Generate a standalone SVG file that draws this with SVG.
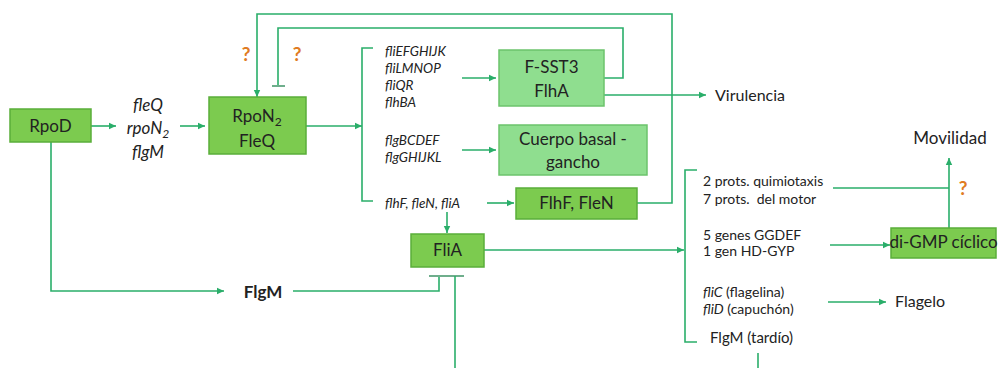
<svg xmlns="http://www.w3.org/2000/svg" width="1000" height="368" viewBox="0 0 1000 368">
<defs>
<marker id="ah" markerUnits="userSpaceOnUse" markerWidth="8" markerHeight="8" refX="7" refY="4" orient="auto">
<path d="M0,0.8 L7,4 L0,7.2 Z" fill="#2aae6a"/>
</marker>
<style>
.ln{fill:none;stroke:#2aae6a;stroke-width:1.6}
.tb{fill:none;stroke:#6fae8c;stroke-width:2}
.dk{fill:#7ccb4f;stroke:#5aae3a;stroke-width:1.5}
.lt{fill:#8fde8f;stroke:#6cc36c;stroke-width:1.5}
text{font-family:Lato,"Open Sans","Liberation Sans",sans-serif;fill:#222}
.bx{font-size:17px;text-anchor:middle}
.it{font-style:italic}
.g{font-size:13.5px;font-style:italic}
.r{font-size:14px}
.q{font-size:19px;font-weight:bold;fill:#e07b22;text-anchor:middle}
</style>
</defs>
<rect width="1000" height="368" fill="#fff"/>
<g id="connectors">
<path class="ln" d="M91,126 H116" marker-end="url(#ah)"/>
<path class="ln" d="M180,126 H205" marker-end="url(#ah)"/>
<path class="ln" d="M306,126 H362" marker-end="url(#ah)"/>
<path class="ln" d="M373,48 H362 V201 H373"/>
<path class="ln" d="M462,78 H496" marker-end="url(#ah)"/>
<path class="ln" d="M462,150 H496" marker-end="url(#ah)"/>
<path class="ln" d="M487,203 H514" marker-end="url(#ah)"/>
<path class="ln" d="M447,212 V233" marker-end="url(#ah)"/>
<path class="ln" d="M604,95 H706" marker-end="url(#ah)"/>
<path class="ln" d="M604,78 H623 V28 H278 V86"/>
<path class="tb" d="M272,86 H285"/>
<path class="ln" d="M637,203 H672 V14 H257 V97" marker-end="url(#ah)"/>
<path class="ln" d="M51,142 V291 H224" marker-end="url(#ah)"/>
<path class="ln" d="M293,291 H439 V277"/>
<path class="tb" d="M429,276 H464"/>
<path class="ln" d="M455,276 V368"/>
<path class="ln" d="M484,250 H684" marker-end="url(#ah)"/>
<path class="ln" d="M697,170 H685 V342 H697"/>
<path class="ln" d="M833,188 H949"/>
<path class="ln" d="M949,228 V158" marker-end="url(#ah)"/>
<path class="ln" d="M830,245 H890" marker-end="url(#ah)"/>
<path class="ln" d="M828,302 H886" marker-end="url(#ah)"/>
<path class="ln" d="M758,353 V368"/>
</g>
<g id="RpoD">
<rect class="dk" x="10" y="109" width="81" height="33"/>
<text class="bx" x="50.5" y="132">RpoD</text>
</g>
<g id="genes1">
<text class="bx it" x="148" y="111">fleQ</text>
<text class="bx it" x="148" y="134">rpoN<tspan font-size="12" dy="4">2</tspan></text>
<text class="bx it" x="148" y="158">flgM</text>
</g>
<g id="RpoN2FleQ">
<rect class="dk" x="209" y="97" width="97" height="57"/>
<text class="bx" x="257" y="122">RpoN<tspan font-size="12" dy="4">2</tspan></text>
<text class="bx" x="257" y="147">FleQ</text>
</g>
<g id="q1"><text class="q" x="246" y="61">?</text></g>
<g id="q2"><text class="q" x="297" y="61">?</text></g>
<g id="genes2">
<text class="g" x="385" y="56">fliEFGHIJK</text>
<text class="g" x="385" y="73">fliLMNOP</text>
<text class="g" x="385" y="90">fliQR</text>
<text class="g" x="385" y="107">flhBA</text>
<text class="g" x="385" y="145">flgBCDEF</text>
<text class="g" x="385" y="162">flgGHIJKL</text>
<text class="g" x="385" y="208">flhF, fleN, fliA</text>
</g>
<g id="FSST3">
<rect class="lt" x="499" y="50" width="105" height="56"/>
<text class="bx" x="551.5" y="73">F-SST3</text>
<text class="bx" x="551.5" y="97">FlhA</text>
</g>
<g id="Cuerpo">
<rect class="lt" x="499" y="125" width="148" height="50"/>
<text class="bx" x="573" y="145" font-size="16">Cuerpo basal -</text>
<text class="bx" x="573" y="168" font-size="16">gancho</text>
</g>
<g id="FlhFFleN">
<rect class="dk" x="516" y="188" width="121" height="31"/>
<text class="bx" x="576.5" y="209">FlhF, FleN</text>
</g>
<g id="FliA">
<rect class="dk" x="411" y="234" width="73" height="33"/>
<text class="bx" x="447.5" y="256" font-size="16">FliA</text>
</g>
<g id="FlgM"><text class="bx" x="263" y="298" font-weight="bold">FlgM</text></g>
<g id="Virulencia"><text x="715" y="101" font-size="16">Virulencia</text></g>
<g id="Movilidad"><text class="bx" x="950" y="144" font-size="15">Movilidad</text></g>
<g id="q3"><text class="q" x="963" y="195">?</text></g>
<g id="genes3">
<text class="r" x="703" y="186">2 prots. quimiotaxis</text>
<text class="r" x="703" y="204" xml:space="preserve">7 prots.  del motor</text>
<text class="r" x="703" y="240">5 genes GGDEF</text>
<text class="r" x="703" y="256">1 gen HD-GYP</text>
<text class="r" x="703" y="297"><tspan font-style="italic">fliC</tspan> (flagelina)</text>
<text class="r" x="703" y="314"><tspan font-style="italic">fliD</tspan> (capuchón)</text>
<text x="710" y="343" font-size="15">FlgM (tardío)</text>
</g>
<g id="diGMP">
<rect class="dk" x="891" y="228" width="105" height="30"/>
<text class="bx" x="943.5" y="248" font-size="14">di-GMP cíclico</text>
</g>
<g id="Flagelo"><text x="895" y="307" font-size="16">Flagelo</text></g>
</svg>
